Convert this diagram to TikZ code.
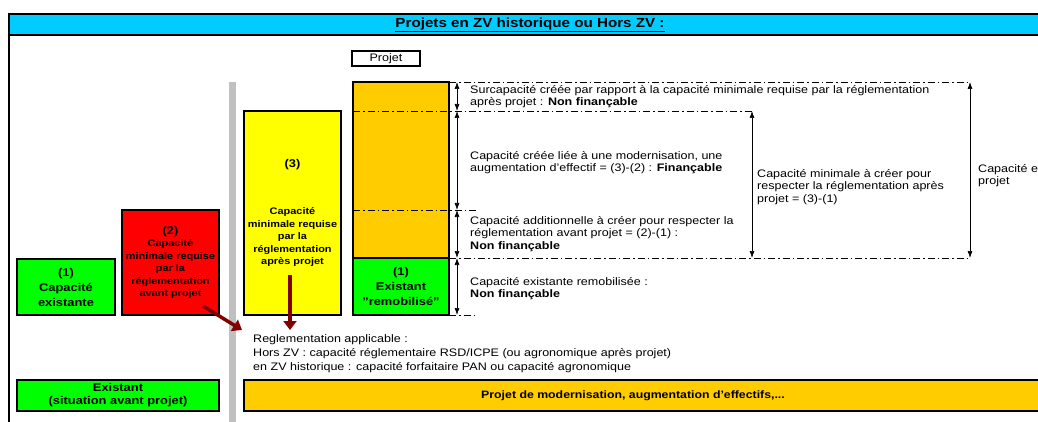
\documentclass[tikz,border=0pt]{standalone}
\usepackage{fontspec}
\setmainfont{Liberation Sans}[FakeStretch=1.15]
\usetikzlibrary{arrows.meta,calc}
\definecolor{cyanband}{RGB}{0,204,255}
\definecolor{vgreen}{RGB}{0,255,0}
\definecolor{vred}{RGB}{255,0,0}
\definecolor{vyellow}{RGB}{255,255,0}
\definecolor{vorange}{RGB}{255,204,0}
\definecolor{vgray}{RGB}{192,192,192}
\definecolor{dred}{RGB}{128,0,0}
\begin{document}
\begin{tikzpicture}[x=1pt,y=-1pt,
  box/.style={draw=black, line width=2.8pt, inner sep=0pt, outer sep=0pt, anchor=north west, align=center, font=\bfseries\fontsize{11.2}{15}\selectfont},
  smallbox/.style={box, font=\bfseries\fontsize{9.5}{12.5}\selectfont},
  dd/.style={line width=0.8pt, dash pattern=on 7pt off 3pt on 1.5pt off 3pt},
  dim/.style={{Latex[length=7pt,width=5pt]}-{Latex[length=7pt,width=5pt]}, line width=0.7pt},
  txt/.style={anchor=north west, align=left, inner sep=0pt, font=\fontsize{10.9}{12.5}\selectfont},
  redarrow/.style={dred, line width=3.5pt, -{Triangle[length=9pt,width=13pt]}}
]
\useasboundingbox (0,0) rectangle (1038,422);
% frame and header
\fill[cyanband] (9,14) rectangle (1045,35);
\draw[line width=2.4pt] (1045,14) -- (9,14) -- (9,422);
\draw[line width=2.4pt] (9,35) -- (1045,35);
\node[font=\bfseries\fontsize{13.2}{14}\selectfont] (title) at (530,25) {\underline{Projets en ZV historique ou Hors ZV :}};
% gray separator
\fill[vgray] (229,82) rectangle (236,422);
% boxes
\node[box, fill=vgreen, minimum width=98pt, minimum height=56pt] (b1) at (17,259) {(1)\\Capacité\\existante};
\node[smallbox, fill=vred, minimum width=97pt, minimum height=105pt] (b2) at (122,210) {{\fontsize{11.2}{13}\selectfont (2)}\\Capacité\\minimale requise\\par la\\réglementation\\avant projet};
\node[smallbox, fill=vyellow, minimum width=97pt, minimum height=204pt] (b3) at (244,111) {{\fontsize{11.2}{13}\selectfont (3)}\\[35pt]Capacité\\minimale requise\\par la\\réglementation\\après projet};
\node[box, line width=2.6pt, fill=white, minimum width=68pt, minimum height=15pt, font=\fontsize{10.9}{11}\selectfont] (projet) at (352,51) {Projet};
\node[box, fill=vorange, minimum width=96pt, minimum height=176pt] (col) at (353,82) {};
\node[box, fill=vgreen, minimum width=96pt, minimum height=57pt] (ex) at (353,258) {(1)\\Existant\\"remobilisé"};
\node[box, fill=vgreen, minimum width=202pt, minimum height=31pt, font=\bfseries\fontsize{11.2}{13}\selectfont] (bex) at (17,380) {Existant\\(situation avant projet)};
\node[box, fill=vorange, minimum width=820pt, minimum height=31pt] (bproj) at (244,380) {};
\node[font=\bfseries\fontsize{10.7}{12}\selectfont] (bprojt) at (633,396) {Projet de modernisation, augmentation d'effectifs,...};
% levels
\coordinate (l82) at (449,82);
\coordinate (l111) at (353,111);
\coordinate (l210) at (353,210);
\coordinate (l258) at (449,258);
\coordinate (l315) at (449,315);
\coordinate (e82) at (970,82);
\coordinate (e111) at (752,111);
\coordinate (e210) at (476,210);
\coordinate (e258) at (970,258);
\coordinate (e315) at (478,315);
\draw[dd] (l82) -- (e82);
\draw[dd] (l111) -- (e111);
\draw[dd] (l210) -- (e210);
\draw[dd] (l258) -- (e258);
\draw[dd] (l315) -- (e315);
% dimension arrows
\coordinate (a1) at (457,82);
\coordinate (a2) at (457,111);
\coordinate (a3) at (457,210);
\coordinate (a4) at (457,258);
\coordinate (a5) at (457,315);
\draw[dim] (a1) -- (a2);
\draw[dim] (a2) -- (a3);
\draw[dim] (a3) -- (a4);
\draw[dim] (a4) -- (a5);
\coordinate (m1) at (752,111);
\coordinate (m2) at (752,258);
\draw[dim] (m1) -- (m2);
\coordinate (t1) at (970,82);
\coordinate (t2) at (970,258);
\draw[dim] (t1) -- (t2);
% texts
\node[txt] (s1) at (470,85) {Surcapacité créée par rapport à la capacité minimale requise par la réglementation\\après projet : \textbf{Non finançable}};
\node[txt] (s2) at (470,151) {Capacité créée liée à une modernisation, une\\augmentation d'effectif = (3)-(2) : \textbf{Finançable}};
\node[txt] (s3) at (470,216) {Capacité additionnelle à créer pour respecter la\\réglementation avant projet = (2)-(1) :\\\textbf{Non finançable}};
\node[txt] (s4) at (470,277) {Capacité existante remobilisée :\\\textbf{Non finançable}};
\node[txt] (s5) at (757,169) {Capacité minimale à créer pour\\respecter la réglementation après\\projet = (3)-(1)};
\node[txt] (s6) at (978,164) {Capacité e\\projet};
\node[txt, font=\fontsize{10.9}{14}\selectfont] (reg) at (253,334) {Reglementation applicable :\\Hors ZV : capacité réglementaire RSD/ICPE (ou agronomique après projet)\\en ZV historique : capacité forfaitaire PAN ou capacité agronomique};
% red arrows
\coordinate (r2) at (203,306);
\coordinate (r2t) at (242,330);
\draw[redarrow] (r2) -- (r2t);
\coordinate (r3) at (290,275);
\coordinate (r3t) at (290,330);
\draw[redarrow] (r3) -- (r3t);
\end{tikzpicture}
\end{document}
